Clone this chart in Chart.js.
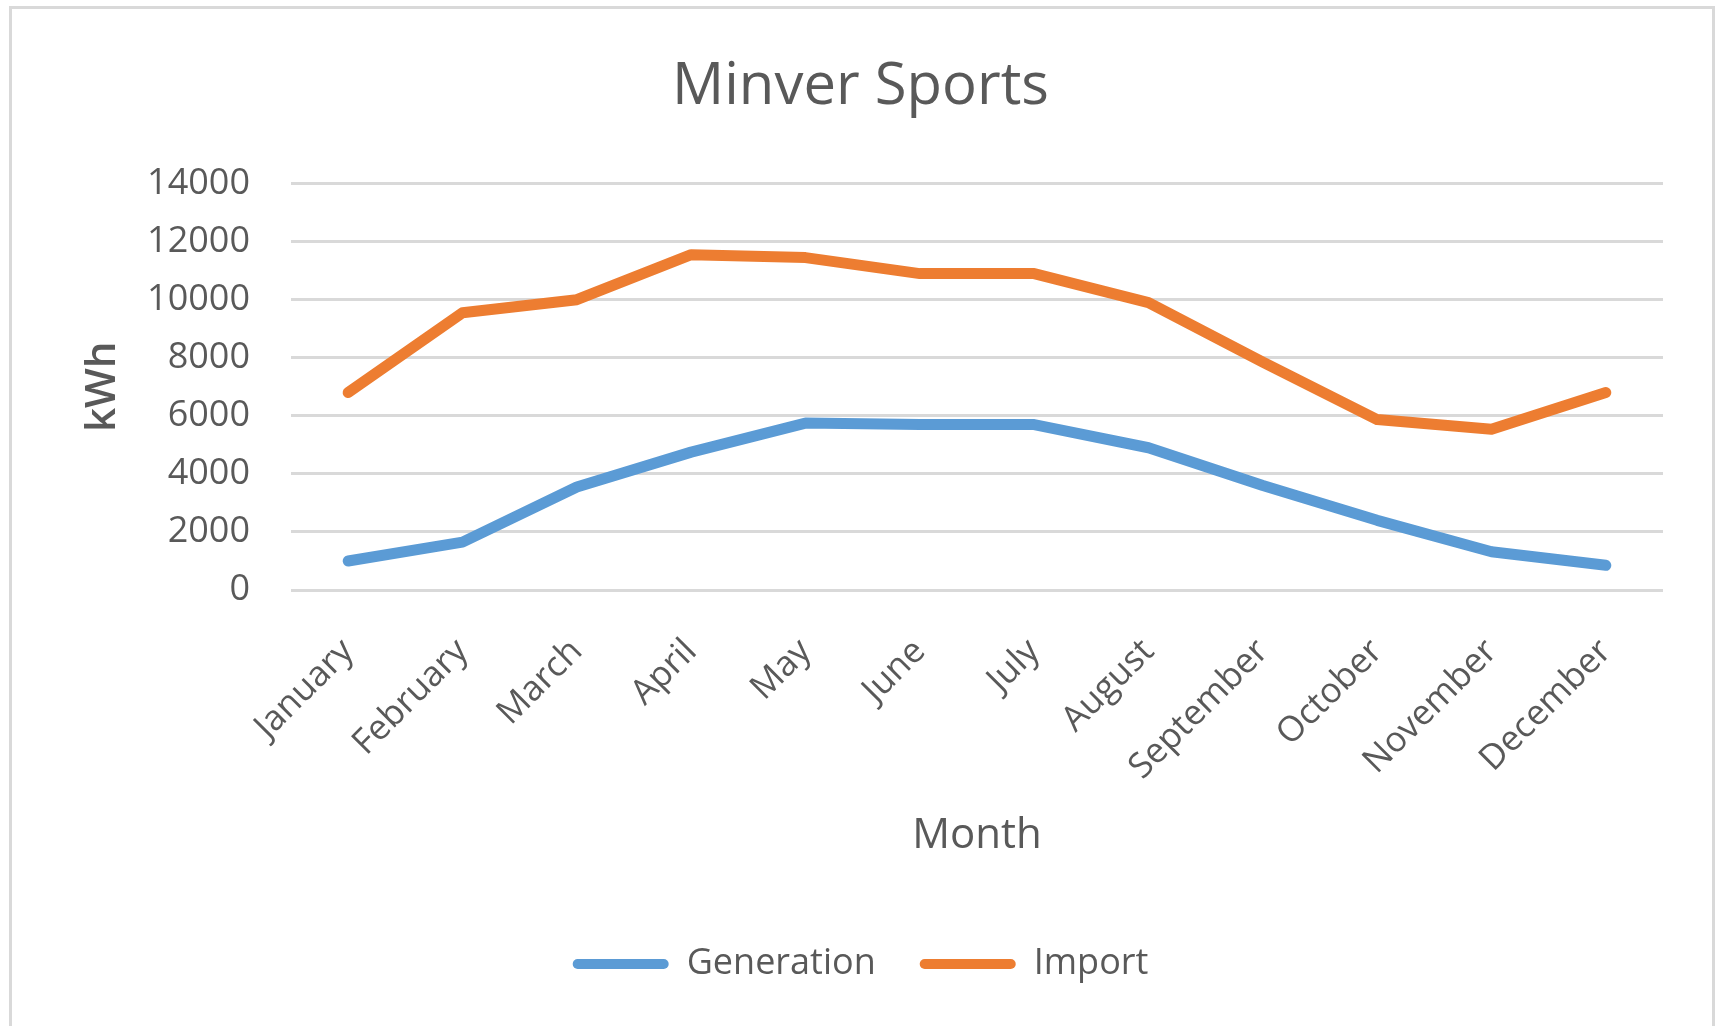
<!DOCTYPE html>
<html>
<head>
<meta charset="utf-8">
<script src="https://cdn.jsdelivr.net/npm/chart.js@4.4.1/dist/chart.umd.min.js"></script>
<style>
  html, body { margin: 0; padding: 0; background: #ffffff; overflow: hidden; }
  #wrap { position: relative; width: 1721px; height: 1026px; }
  #frame { position: absolute; left: 9px; top: 6px; width: 1700px; height: 1100px;
           border: 3px solid #d9d9d9; pointer-events: none; box-sizing: content-box; }
  canvas { position: absolute; left: 0; top: 0; }
</style>
</head>
<body>
<div id="wrap">
  <canvas id="c" width="1721" height="1026"></canvas>
  <div id="frame"></div>
</div>
<script>
const months = ["January","February","March","April","May","June","July","August","September","October","November","December"];
const generation = [1000, 1650, 3550, 4750, 5750, 5700, 5700, 4900, 3600, 2400, 1320, 850];
const importKwh = [6800, 9550, 10000, 11550, 11450, 10900, 10900, 9900, 7850, 5870, 5540, 6800];
const yTicks = [0, 2000, 4000, 6000, 8000, 10000, 12000, 14000];

const FONT = "'Open Sans', 'Noto Sans', sans-serif";
const TXT = '#595959';

new Chart(document.getElementById('c'), {
  type: 'line',
  data: {
    labels: months,
    datasets: [
      { label: 'Generation', data: generation, borderColor: '#5B9BD5', backgroundColor: '#5B9BD5',
        borderWidth: 11, pointRadius: 0, tension: 0, borderCapStyle: 'round', borderJoinStyle: 'round' },
      { label: 'Import', data: importKwh, borderColor: '#ED7D31', backgroundColor: '#ED7D31',
        borderWidth: 11, pointRadius: 0, tension: 0, borderCapStyle: 'round', borderJoinStyle: 'round' }
    ]
  },
  options: {
    responsive: false,
    animation: false,
    layout: { padding: { left: 0, right: 0, top: 0, bottom: 34 } },
    plugins: {
      tooltip: { enabled: false },
      title: {
        display: true, text: 'Minver Sports', color: TXT,
        font: { family: FONT, size: 58, weight: 'normal' },
        padding: { top: 53, bottom: 61 }
      },
      legend: {
        display: true, position: 'bottom',
        labels: {
          color: TXT, font: { family: FONT, size: 36 },
          boxWidth: 96, boxHeight: 10, padding: 44,
          useBorderRadius: true, borderRadius: 5,
          generateLabels: (chart) => Chart.defaults.plugins.legend.labels.generateLabels(chart)
            .map(l => Object.assign(l, { lineWidth: 0 }))
        }
      }
    },
    scales: {
      x: {
        type: 'category',
        offset: true,
        afterFit: (s) => { s.height = 312; },
        grid: { display: false },
        border: { display: false },
        ticks: { color: TXT, font: { family: FONT, size: 35 }, minRotation: 45, maxRotation: 45, padding: 33, autoSkip: false },
        title: { display: true, text: 'Month', color: TXT, font: { family: FONT, size: 42 }, padding: { top: 0, bottom: 41 } }
      },
      y: {
        min: 0, max: 14000,
        afterFit: (s) => { s.width = 291; },
        afterBuildTicks: (s) => { s.ticks = yTicks.map(v => ({ value: v })); },
        grid: { color: '#d9d9d9', lineWidth: 3, drawTicks: false },
        border: { display: false },
        ticks: { color: TXT, font: { family: FONT, size: 36 }, padding: 41, callback: (v) => String(v) },
        title: { display: true, text: 'kWh', color: TXT, font: { family: FONT, size: 42, weight: '600' }, padding: { top: 78, bottom: 10 } }
      },
      yRight: {
        position: 'right', min: 0, max: 1,
        afterFit: (s) => { s.width = 58; },
        grid: { display: false, drawTicks: false },
        border: { display: false },
        ticks: { display: false }
      }
    }
  }
});
</script>
</body>
</html>
